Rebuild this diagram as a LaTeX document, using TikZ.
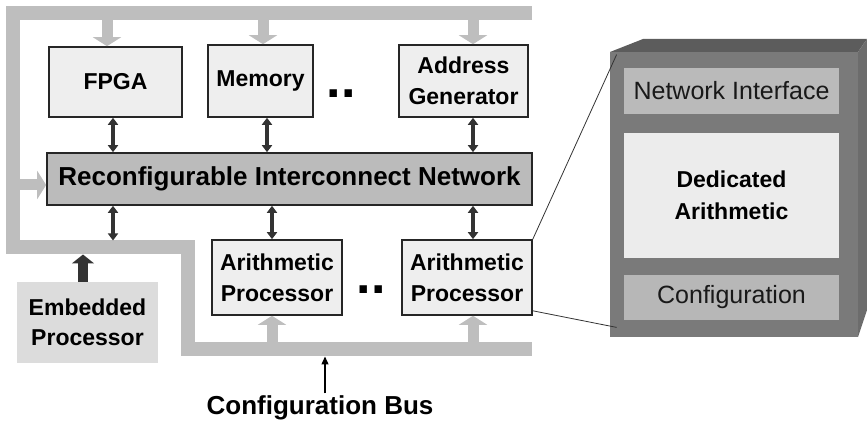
\documentclass[tikz,border=0pt]{standalone}
\usepackage{fontspec}
\setmainfont{Liberation Sans}
\usepackage{xcolor}
\usetikzlibrary{positioning, arrows.meta}
\definecolor{busgray}{HTML}{BEBEBE}
\definecolor{boxfill}{HTML}{EEEEEE}
\definecolor{netfill}{HTML}{BBBBBB}
\definecolor{embfill}{HTML}{DCDCDC}
\definecolor{ink}{HTML}{333333}
\definecolor{face}{HTML}{7A7A7A}
\definecolor{facetop}{HTML}{5C5C5C}
\definecolor{faceside}{HTML}{6C6C6C}
\definecolor{nifill}{HTML}{BABABA}
\definecolor{dafill}{HTML}{ECECEC}
\definecolor{cfgfill}{HTML}{B7B7B7}

\begin{document}
\begin{tikzpicture}[
  x=0.5pt, y=-0.5pt, node distance=8.5pt,
  unit/.style={draw=black!85, line width=0.8pt, fill=boxfill, align=center,
               inner sep=0pt, font=\fontsize{11.5}{15.5}\selectfont\bfseries},
  net/.style={unit, fill=netfill, font=\fontsize{13}{15}\selectfont\bfseries},
  emb/.style={fill=embfill, align=center, inner sep=0pt,
              font=\fontsize{11.5}{15}\selectfont\bfseries},
  part/.style={inner sep=0pt, align=center, minimum width=107.5pt,
               font=\fontsize{12.5}{16}\selectfont, text=black!90},
  dots/.style={anchor=base, inner sep=0pt, font=\fontsize{26}{26}\selectfont\bfseries},
  lbl/.style={inner sep=1pt, font=\fontsize{13}{15}\selectfont\bfseries},
  bus/.style={busgray, line width=7pt, line join=miter},
  feed/.style={busgray, line width=5.5pt, -{Triangle[width=14pt,length=4.5pt]}},
  link/.style={ink, line width=2pt,
               {Triangle[width=5pt,length=3.5pt]}-{Triangle[width=5pt,length=3.5pt]}},
  push/.style={ink, line width=5pt, -{Triangle[width=11pt,length=4.5pt]}},
  zoomln/.style={ink, line width=0.4pt},
]
\useasboundingbox (0,0) rectangle (867,426);

% --- configuration bus ---
\draw[bus] (532,13.5) -- (13,13.5) -- (13,247.5) -- (187.5,247.5)
           -- (187.5,349.5) -- (532,349.5);
\coordinate (topB) at (0,20.5);
\coordinate (leftE) at (20,0);
\coordinate (midT) at (0,240.5);
\coordinate (midB) at (0,254.5);
\coordinate (lowT) at (0,342.5);
\coordinate (lowB) at (0,356.5);

% --- top row ---
\node[unit, minimum width=66.5pt, minimum height=35pt] (fpga) at (115.5,82) {FPGA};
\node[unit, minimum width=52.5pt, minimum height=36pt] (mem) at (260.5,81) {Memory};
\node[unit, minimum width=64.5pt, minimum height=36pt] (agen) at (463.5,81) {Address\\Generator};
\node[dots] (dtop) at (341,98) {..};

% --- interconnect ---
\node[net, minimum width=242.5pt, minimum height=26pt] (net) at (289.5,179)
  {Reconfigurable Interconnect Network};

% --- bottom row ---
\node[unit, minimum width=65pt, minimum height=37.5pt] (ap1) at (277,277.5) {Arithmetic\\Processor};
\node[unit, minimum width=65pt, minimum height=37.5pt] (ap2) at (467,277.5) {Arithmetic\\Processor};
\node[dots] (dbot) at (371,294) {..};
\node[emb, minimum width=70.5pt, minimum height=40.5pt] (emb) at (87.5,322.5) {Embedded\\Processor};
\node[lbl] (cbus) at (320,408) {Configuration Bus};

% --- bus feeds ---
\foreach \n/\dx in {fpga/-4.25pt, mem/1.25pt, agen/4.75pt}
  \draw[feed] ([xshift=\dx]\n.north |- topB) -- ([xshift=\dx]\n.north);
\foreach \n/\dx in {ap1/-2.5pt, ap2/3pt}
  \draw[feed] ([xshift=\dx]\n.south |- lowT) -- ([xshift=\dx]\n.south);
\draw[feed] ([yshift=-3pt]net.west -| leftE) -- ([yshift=-3pt]net.west);

% --- network links ---
\foreach \n/\dx in {fpga/-1.25pt, mem/3.25pt, agen/4.75pt}
  \draw[link] ([xshift=\dx]\n.south) -- ([xshift=\dx]\n.south |- net.north);
\foreach \n/\dx in {ap1/-2.5pt, ap2/3pt}
  \draw[link] ([xshift=\dx]\n.north |- net.south) -- ([xshift=\dx]\n.north);
\draw[link] ([xshift=-1.25pt]fpga.south |- net.south) -- ([xshift=-1.25pt]fpga.south |- midT);
\draw[push] ([xshift=-2.25pt]emb.north) -- ([xshift=-2.25pt]emb.north |- midB);
\draw[black, line width=0.7pt, -{Triangle[width=3.5pt,length=4pt]}]
  ([xshift=2.5pt]cbus.north) -- ([xshift=2.5pt]cbus.north |- lowB);

% --- processor detail ---
\fill[facetop] (610,52) -- (643,39) -- (867,39) -- (858,52) -- cycle;
\fill[faceside] (858,52) -- (867,39) -- (867,310) -- (858,337) -- cycle;
\node[fill=face, inner sep=0pt, minimum width=124pt, minimum height=142.5pt] (tile) at (734,194.5) {};
\node[part, fill=nifill, minimum height=23pt] (ni) at (731.5,91) {Network Interface};
\node[part, fill=dafill, minimum height=62.5pt, below=9pt of ni,
      font=\fontsize{11.5}{16}\selectfont\bfseries, text=black] (da) {Dedicated\\Arithmetic};
\node[part, fill=cfgfill, minimum height=22.5pt, below=8pt of da] (cfg) {Configuration};
\draw[zoomln] (ap2.north east) -- ([shift={(3.5pt,-1.5pt)}]tile.north west);
\draw[zoomln] ([yshift=2.5pt]ap2.south east) -- ([shift={(3.5pt,5pt)}]tile.south west);
\end{tikzpicture}
\end{document}
